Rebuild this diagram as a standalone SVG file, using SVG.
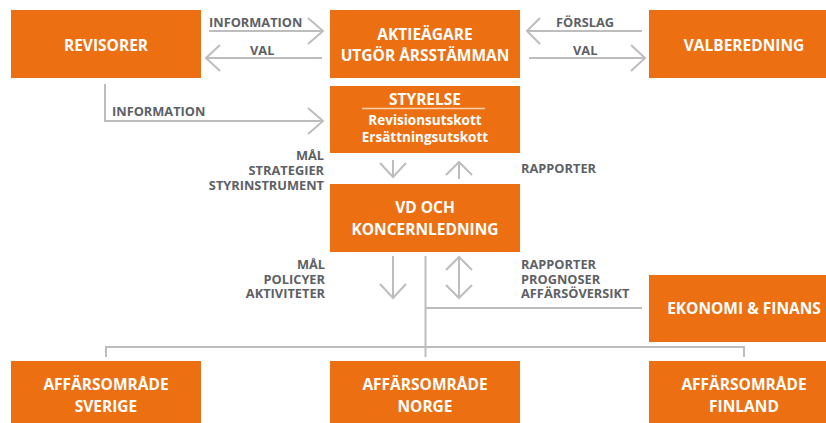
<svg xmlns="http://www.w3.org/2000/svg" width="826" height="423" viewBox="0 0 826 423">
<style>
.box{fill:#ec7012}
.bt{font-family:"Open Sans","Liberation Sans",sans-serif;font-weight:700;font-size:15.5px;fill:#ffffff;text-anchor:middle}
.st{font-family:"Open Sans","Liberation Sans",sans-serif;font-weight:700;font-size:13.5px;fill:#ffffff;text-anchor:middle}
.lb{font-family:"Open Sans","Liberation Sans",sans-serif;font-weight:700;font-size:12.8px;fill:#5d6166}
.r{text-anchor:end}
.ln{fill:none;stroke:#bdbdbd;stroke-width:2}
</style>
<rect width="826" height="423" fill="#ffffff"/>
<g id="revisorer"><rect class="box" x="11" y="10" width="190" height="68"/><text class="bt" x="106" y="51">REVISORER</text></g>
<g id="aktieagare"><rect class="box" x="330" y="10" width="190" height="68"/><text class="bt" x="425" y="40">AKTIEÄGARE</text><text class="bt" x="425" y="61">UTGÖR ÅRSSTÄMMAN</text></g>
<g id="valberedning"><rect class="box" x="649" y="10" width="190" height="68"/><text class="bt" x="744" y="51">VALBEREDNING</text></g>
<g id="styrelse"><rect class="box" x="330" y="86" width="190" height="67"/><text class="bt" x="425" y="105">STYRELSE</text><line x1="362" y1="108.5" x2="485" y2="108.5" stroke="#f8d2b0" stroke-width="1.5"/><text class="st" x="425" y="125">Revisionsutskott</text><text class="st" x="425" y="142">Ersättningsutskott</text></g>
<g id="vd"><rect class="box" x="330" y="184" width="190" height="68"/><text class="bt" x="425" y="213">VD OCH</text><text class="bt" x="425" y="235">KONCERNLEDNING</text></g>
<g id="ekonomi"><rect class="box" x="649" y="275" width="190" height="67"/><text class="bt" x="744" y="314">EKONOMI &amp; FINANS</text></g>
<g id="sverige"><rect class="box" x="11" y="361" width="190" height="68"/><text class="bt" x="106" y="390">AFFÄRSOMRÅDE</text><text class="bt" x="106" y="412">SVERIGE</text></g>
<g id="norge"><rect class="box" x="330" y="361" width="190" height="68"/><text class="bt" x="425" y="390">AFFÄRSOMRÅDE</text><text class="bt" x="425" y="412">NORGE</text></g>
<g id="finland"><rect class="box" x="649" y="361" width="190" height="68"/><text class="bt" x="744" y="390">AFFÄRSOMRÅDE</text><text class="bt" x="744" y="412">FINLAND</text></g>
<g id="connectors">
<path class="ln" d="M209 31H323M308 18L323 31L308 44"/>
<path class="ln" d="M322 58H206M220 45L206 58L220 71"/>
<path class="ln" d="M642 31H527M540 18L527 31L540 44"/>
<path class="ln" d="M529 58H645M631 45L645 58L631 71"/>
<path class="ln" d="M105 84V121H323M308 108L323 121L308 134"/>
<path class="ln" d="M393 160V177M380 163L393 177L406 163"/>
<path class="ln" d="M459 162V179M446 175L459 162L472 175"/>
<path class="ln" d="M393 256V298M380 284L393 298L406 284"/>
<path class="ln" d="M459 257V298M446 270L459 257L472 270M446 285L459 298L472 285"/>
<path class="ln" d="M425.5 256V357M425.5 308H642M106 357V347H744V357"/>
</g>
<g id="labels">
<text class="lb" x="209" y="27">INFORMATION</text>
<text class="lb" x="250" y="55">VAL</text>
<text class="lb" x="556" y="27">FÖRSLAG</text>
<text class="lb" x="573" y="55">VAL</text>
<text class="lb" x="112" y="116">INFORMATION</text>
<text class="lb r" x="324" y="160">MÅL</text>
<text class="lb r" x="324" y="175">STRATEGIER</text>
<text class="lb r" x="324" y="189.5">STYRINSTRUMENT</text>
<text class="lb" x="521" y="173">RAPPORTER</text>
<text class="lb r" x="325" y="269">MÅL</text>
<text class="lb r" x="325" y="283.5">POLICYER</text>
<text class="lb r" x="325" y="298">AKTIVITETER</text>
<text class="lb" x="521" y="269">RAPPORTER</text>
<text class="lb" x="521" y="283.5">PROGNOSER</text>
<text class="lb" x="521" y="298">AFFÄRSÖVERSIKT</text>
</g>
</svg>
